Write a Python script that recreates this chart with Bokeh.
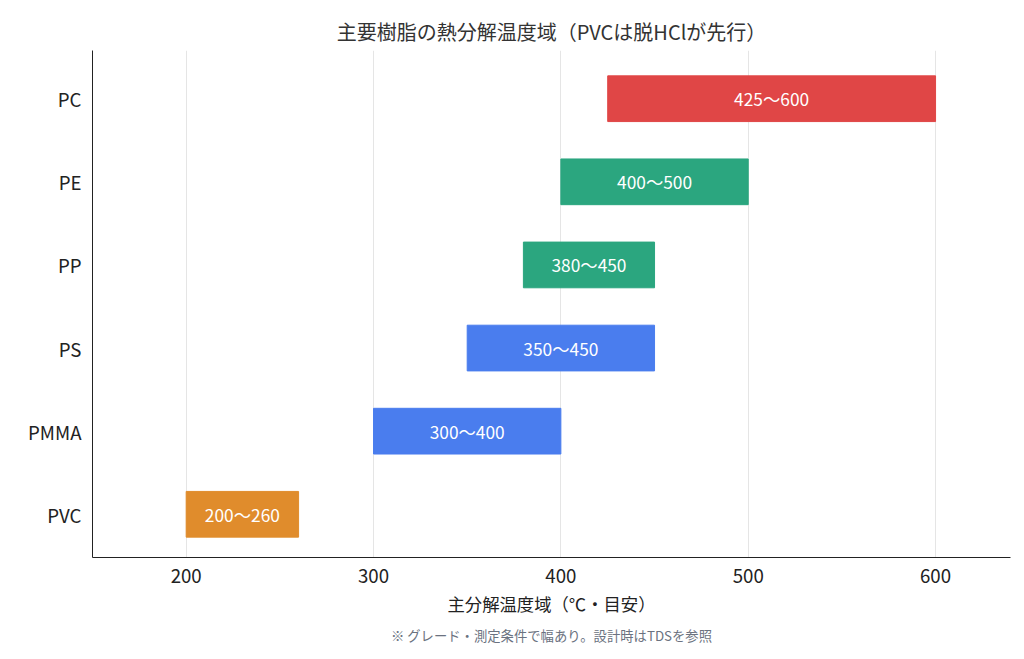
from bokeh.plotting import figure
from bokeh.models import ColumnDataSource, Title
from bokeh.embed import file_html
from bokeh.resources import INLINE

resins = ["PVC", "PMMA", "PS", "PP", "PE", "PC"]
starts = [200, 300, 350, 380, 400, 425]
ends = [260, 400, 450, 450, 500, 600]
colors = ["#E08C2C", "#4A7DEE", "#4A7DEE", "#2BA67F", "#2BA67F", "#E04646"]
xticks = [200, 300, 400, 500, 600]

FONT = "Noto Sans CJK JP"
ypos = list(range(len(resins)))
src = ColumnDataSource(dict(y=ypos, left=starts, right=ends, color=colors,
                            mid=[(a + b) / 2 for a, b in zip(starts, ends)],
                            lab=[f"{a}〜{b}" for a, b in zip(starts, ends)]))

p = figure(width=1016, height=651, x_range=(150, 640), y_range=(-0.52, 5.58),
           output_backend="svg", toolbar_location=None,
           min_border_left=92, min_border_right=6, min_border_top=50, min_border_bottom=94)
p.hbar(y="y", left="left", right="right", height=0.55, color="color", source=src)
p.text(x="mid", y="y", text="lab", source=src, text_align="center", text_baseline="middle",
       text_color="white", text_font_size="13pt", text_font={"value": FONT})

p.title.text = "主要樹脂の熱分解温度域（PVCは脱HClが先行）"
p.title.align = "center"
p.title.text_font = FONT
p.title.text_font_size = "15pt"
p.title.text_font_style = "normal"
p.title.text_color = "#333333"
p.add_layout(Title(text="※ グレード・測定条件で幅あり。設計時はTDSを参照", align="center",
                   text_font=FONT, text_font_size="10pt", text_font_style="normal",
                   text_color="#6B7280"), "below")

p.xaxis.ticker = xticks
p.yaxis.ticker = ypos
p.yaxis.major_label_overrides = {i: r for i, r in enumerate(resins)}
p.xaxis.axis_label = "主分解温度域（℃・目安）"
p.xaxis.axis_label_text_font = FONT
p.xaxis.axis_label_text_font_style = "normal"
p.xaxis.axis_label_text_font_size = "13pt"
p.xaxis.axis_label_text_color = "#222222"
for ax in (p.xaxis, p.yaxis):
    ax.major_label_text_font = FONT
    ax.major_label_text_font_size = "14pt"
    ax.major_label_text_color = "#222222"
    ax.minor_tick_line_color = None
    ax.major_tick_line_color = None
    ax.axis_line_color = "#222222"
p.outline_line_color = None
p.ygrid.grid_line_color = None
p.xgrid.grid_line_color = "#E5E5E5"

open("out.html", "w").write(file_html(p, INLINE))
